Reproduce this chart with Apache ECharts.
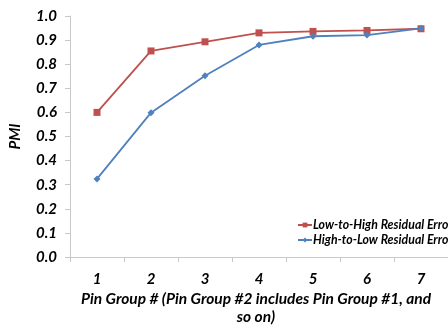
<!DOCTYPE html>
<html><head><meta charset="utf-8">
<script src="https://cdn.jsdelivr.net/npm/echarts@6/dist/echarts.min.js"></script>
<style>html,body{margin:0;padding:0;background:#fff}#c{width:448px;height:326px}</style>
</head><body><div id="c"></div>
<script>
var categories = ['1','2','3','4','5','6','7'];
var lowToHigh = [0.60, 0.855, 0.893, 0.930, 0.936, 0.940, 0.947];
var highToLow = [0.324, 0.599, 0.752, 0.880, 0.916, 0.921, 0.949];
var seriesNames = ['Low-to-High Residual Error', 'High-to-Low Residual Error'];
var yTitle = 'PMI';
var xTitle = 'Pin Group # (Pin Group #2 includes Pin Group #1, and\nso on)';

var FONT = 'Lato';
var chart = echarts.init(document.getElementById('c'), null, {renderer:'canvas'});
chart.setOption({
  animation: false,
  backgroundColor: '#fff',
  title: {
    text: xTitle, left: 256, top: 290, textAlign: 'center', padding: 0,
    textStyle: {fontFamily: FONT, fontSize: 15.5, fontWeight: 'bold', fontStyle: 'italic', color: '#000', lineHeight: 18}
  },
  legend: {
    orient: 'vertical', left: 297, top: 219, itemGap: 3, itemWidth: 14, itemHeight: 6, padding: 0,
    data: seriesNames,
    textStyle: {fontFamily: FONT, fontSize: 12.3, fontWeight: 'bold', fontStyle: 'italic', color: '#000', padding: [0,0,0,-4]}
  },
  grid: {left: 62, right: -3, top: 16, bottom: 69, containLabel: false},
  xAxis: {
    type: 'category', data: categories, boundaryGap: true,
    axisLine: {lineStyle: {color: '#c8c8c8'}},
    axisTick: {show: true, length: 5, lineStyle: {color: '#c8c8c8'}},
    axisLabel: {fontFamily: FONT, fontSize: 15, fontWeight: 'bold', fontStyle: 'italic', color: '#000', margin: 15}
  },
  yAxis: {
    type: 'value', min: 0, max: 1, interval: 0.1,
    name: yTitle, nameLocation: 'middle', nameGap: 47, nameRotate: 90,
    nameTextStyle: {fontFamily: FONT, fontSize: 15, fontWeight: 'bold', fontStyle: 'italic', color: '#000'},
    axisLine: {show: true, lineStyle: {color: '#c8c8c8'}},
    axisTick: {show: true, length: 5, lineStyle: {color: '#c8c8c8'}},
    splitLine: {show: false},
    axisLabel: {fontFamily: FONT, fontSize: 15, fontWeight: 'bold', fontStyle: 'italic', color: '#000', margin: 13,
      formatter: function(v){return v.toFixed(1);}}
  },
  series: [
    {name: seriesNames[0], type: 'line', data: lowToHigh, symbol: 'rect', symbolSize: 7,
     itemStyle: {color: '#C0504D'}, lineStyle: {color: '#C0504D', width: 1.8}, z: 2},
    {name: seriesNames[1], type: 'line', data: highToLow, symbol: 'diamond', symbolSize: 7,
     itemStyle: {color: '#4F81BD'}, lineStyle: {color: '#4F81BD', width: 1.8}, z: 3}
  ]
});
</script></body></html>
